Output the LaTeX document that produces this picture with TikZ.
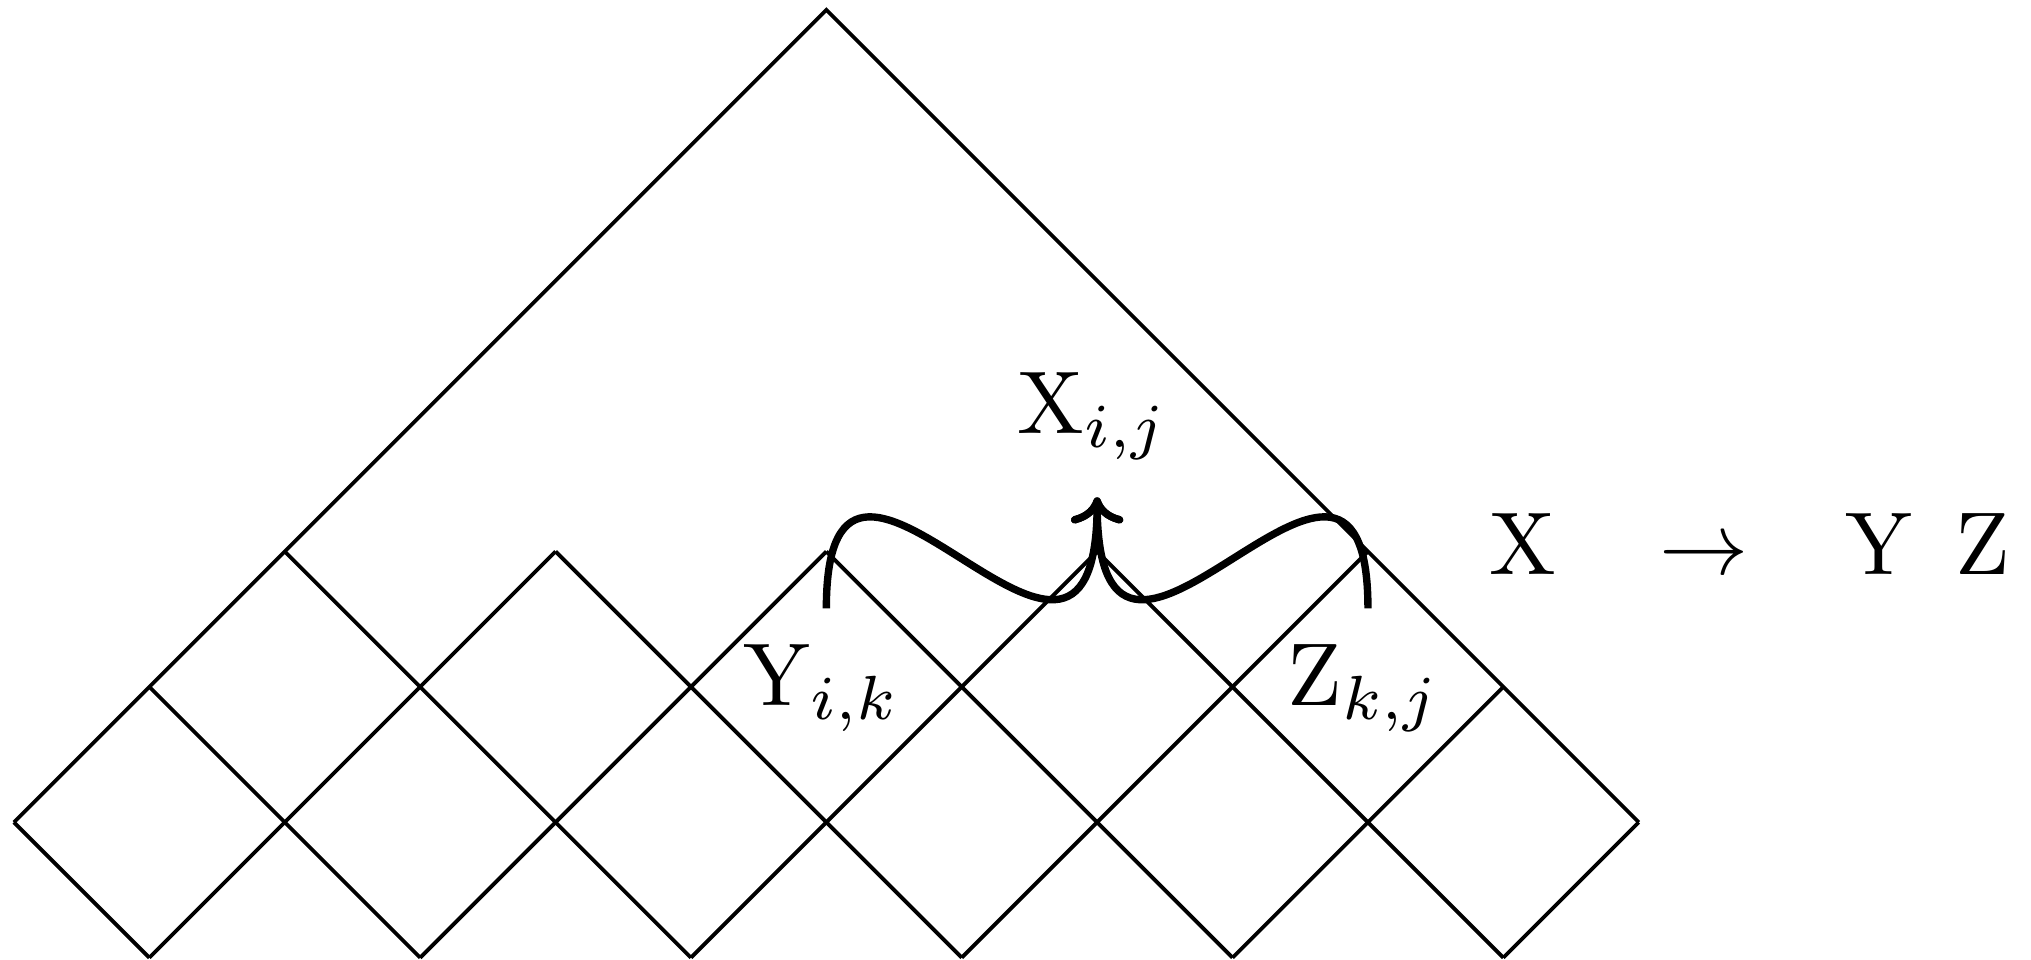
\RequirePackage{fix-cm}
\documentclass[tikz,border=0pt]{standalone}
\usetikzlibrary{arrows.meta}
\newcommand{\lblscale}[1]{\scalebox{1.873}{#1}}
\begin{document}
\begin{tikzpicture}[x=1cm,y=1cm,
  gridline/.style={line width=0.8pt},
  bracearrow/.style={line width=1.55pt, -{To[length=5.5pt,width=11pt]}},
  lbl/.style={inner sep=0pt, font=\normalsize}]
\useasboundingbox (-0.103,-0.01) rectangle (14.897,7.073);
% outer triangle
\coordinate (L) at (0,1);
\coordinate (T) at (6,7);
\coordinate (R) at (12,1);
\draw[gridline] (L) -- (T) -- (R);
% down-right diagonals
\draw[gridline] (0,1) -- (1,0);
\draw[gridline] (1,2) -- (3,0);
\draw[gridline] (2,3) -- (5,0);
\draw[gridline] (4,3) -- (7,0);
\draw[gridline] (6,3) -- (9,0);
\draw[gridline] (8,3) -- (11,0);
% up-right diagonals
\draw[gridline] (1,0) -- (4,3);
\draw[gridline] (3,0) -- (6,3);
\draw[gridline] (5,0) -- (8,3);
\draw[gridline] (7,0) -- (10,3);
\draw[gridline] (9,0) -- (11,2);
\draw[gridline] (11,0) -- (12,1);
% labels
\node[lbl, anchor=base] (X) at (7.97,3.87) {\lblscale{X$_{i,j}$}};
\node[lbl, anchor=base] (Y) at (5.97,1.86) {\lblscale{Y$_{i,k}$}};
\node[lbl, anchor=base] (Z) at (9.97,1.86) {\lblscale{Z$_{k,j}$}};
% braces
\coordinate (ys) at (6,2.58);
\coordinate (zs) at (10,2.58);
\coordinate (xt) at (8,3.4);
\draw[bracearrow] (ys) .. controls +(0,2) and +(0,-2.1) .. (xt);
\draw[bracearrow] (zs) .. controls +(0,2) and +(0,-2.1) .. (xt);
% rule
\node[lbl, anchor=base west] (rx) at (10.89,2.83) {\lblscale{X}};
\node[lbl, anchor=base] (rarr) at (12.48,2.83) {\lblscale{$\rightarrow$}};
\node[lbl, anchor=base west] (ry) at (13.52,2.83) {\lblscale{Y}};
\node[lbl, anchor=base west] (rz) at (14.33,2.83) {\lblscale{Z}};
\end{tikzpicture}
\end{document}
